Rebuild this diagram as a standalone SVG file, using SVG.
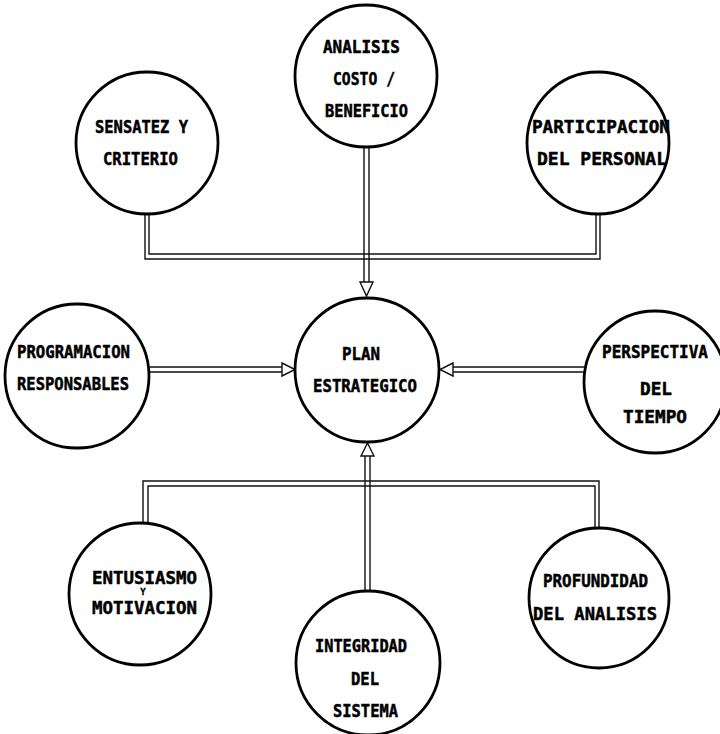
<svg xmlns="http://www.w3.org/2000/svg" width="720" height="734" viewBox="0 0 720 734">
  <style>
    .node circle { fill: #ffffff; stroke: #000000; stroke-width: 2.8; }
    .node text { font-family: "DejaVu Sans Mono", "Liberation Mono", monospace; font-weight: bold; font-size: 18px; fill: #000000; stroke: #000000; stroke-width: 0.5; text-anchor: middle; }
    .node text.small { font-size: 9px; stroke-width: 0.3; }
    .rail { fill: none; stroke: #111111; stroke-width: 1.4; }
    .head { fill: #ffffff; stroke: #111111; stroke-width: 1.4; stroke-linejoin: miter; }
  </style>
  <rect width="720" height="734" fill="#ffffff"/>

  <!-- connectors: double rails with open arrowheads into the central node -->
  <g id="connectors">
    <!-- upper bus: SENSATEZ / PARTICIPACION -->
    <polyline class="rail" points="145,214 145,259 600,259 600,214"/>
    <polyline class="rail" points="149,214 149,254 596,254 596,214"/>
    <!-- ANALISIS -> PLAN (down) -->
    <line class="rail" x1="364" y1="148" x2="364" y2="282"/>
    <line class="rail" x1="369" y1="148" x2="369" y2="282"/>
    <polygon class="head" points="360,282 373,282 366.5,296"/>
    <!-- PROGRAMACION -> PLAN (right) -->
    <line class="rail" x1="150" y1="367" x2="282" y2="367"/>
    <line class="rail" x1="150" y1="372" x2="282" y2="372"/>
    <polygon class="head" points="282,363 282,376 295,369.5"/>
    <!-- PERSPECTIVA -> PLAN (left) -->
    <line class="rail" x1="584" y1="367" x2="453" y2="367"/>
    <line class="rail" x1="584" y1="372" x2="453" y2="372"/>
    <polygon class="head" points="453,363 453,376 440,369.5"/>
    <!-- lower bus: ENTUSIASMO / PROFUNDIDAD -->
    <polyline class="rail" points="143,523 143,481 599,481 599,527"/>
    <polyline class="rail" points="148,523 148,486 595,486 595,527"/>
    <!-- INTEGRIDAD -> PLAN (up) -->
    <line class="rail" x1="365" y1="590" x2="365" y2="456"/>
    <line class="rail" x1="370" y1="590" x2="370" y2="456"/>
    <polygon class="head" points="361,456 374,456 367.5,443"/>
  </g>

  <g id="analisis" class="node">
    <circle cx="366" cy="76" r="71"/>
    <text x="361.5" y="53" textLength="77" lengthAdjust="spacingAndGlyphs">ANALISIS</text>
    <text x="364" y="85" textLength="62" lengthAdjust="spacingAndGlyphs">COSTO /</text>
    <text x="366.5" y="117" textLength="83" lengthAdjust="spacingAndGlyphs">BENEFICIO</text>
  </g>

  <g id="sensatez" class="node">
    <circle cx="147" cy="143" r="71"/>
    <text x="141.5" y="133" textLength="93" lengthAdjust="spacingAndGlyphs">SENSATEZ Y</text>
    <text x="140.5" y="165" textLength="75" lengthAdjust="spacingAndGlyphs">CRITERIO</text>
  </g>

  <g id="participacion" class="node">
    <circle cx="598" cy="143" r="71"/>
    <text x="601" y="133" textLength="138" lengthAdjust="spacingAndGlyphs">PARTICIPACION</text>
    <text x="602" y="165" textLength="130" lengthAdjust="spacingAndGlyphs">DEL PERSONAL</text>
  </g>

  <g id="plan" class="node">
    <circle cx="367" cy="370" r="72"/>
    <text x="361" y="360" textLength="38" lengthAdjust="spacingAndGlyphs">PLAN</text>
    <text x="365" y="392" textLength="104" lengthAdjust="spacingAndGlyphs">ESTRATEGICO</text>
  </g>

  <g id="programacion" class="node">
    <circle cx="77" cy="376" r="72"/>
    <text x="73.5" y="358" textLength="113" lengthAdjust="spacingAndGlyphs">PROGRAMACION</text>
    <text x="73" y="390" textLength="112" lengthAdjust="spacingAndGlyphs">RESPONSABLES</text>
  </g>

  <g id="perspectiva" class="node">
    <circle cx="655" cy="382" r="71"/>
    <text x="655" y="358" textLength="106" lengthAdjust="spacingAndGlyphs">PERSPECTIVA</text>
    <text x="656" y="395" textLength="32" lengthAdjust="spacingAndGlyphs">DEL</text>
    <text x="655" y="423" textLength="64" lengthAdjust="spacingAndGlyphs">TIEMPO</text>
  </g>

  <g id="entusiasmo" class="node">
    <circle cx="140" cy="594" r="71"/>
    <text x="144.5" y="584" textLength="105" lengthAdjust="spacingAndGlyphs">ENTUSIASMO</text>
    <text class="small" x="143" y="595">Y</text>
    <text x="144.5" y="614" textLength="105" lengthAdjust="spacingAndGlyphs">MOTIVACION</text>
  </g>

  <g id="profundidad" class="node">
    <circle cx="599" cy="598" r="70"/>
    <text x="595.5" y="587" textLength="105" lengthAdjust="spacingAndGlyphs">PROFUNDIDAD</text>
    <text x="595" y="620" textLength="124" lengthAdjust="spacingAndGlyphs">DEL ANALISIS</text>
  </g>

  <g id="integridad" class="node">
    <circle cx="368" cy="663" r="72"/>
    <text x="361" y="652" textLength="92" lengthAdjust="spacingAndGlyphs">INTEGRIDAD</text>
    <text x="365" y="685" textLength="28" lengthAdjust="spacingAndGlyphs">DEL</text>
    <text x="365.5" y="717" textLength="65" lengthAdjust="spacingAndGlyphs">SISTEMA</text>
  </g>
</svg>
